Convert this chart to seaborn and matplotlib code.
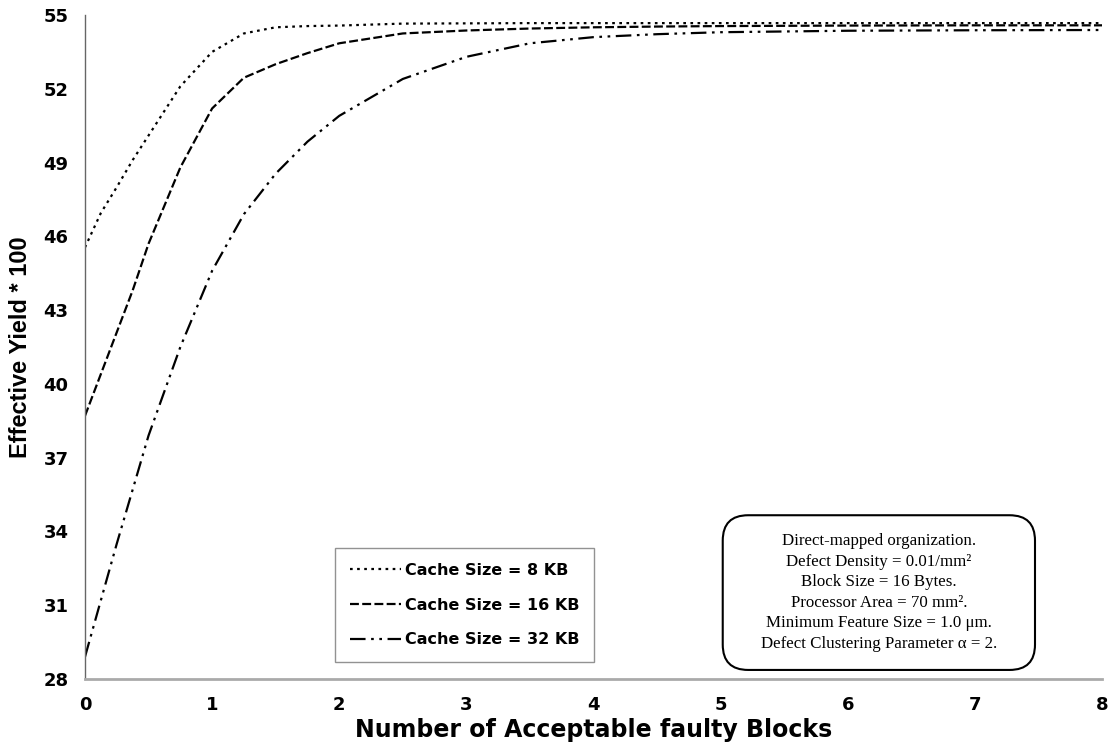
import pandas as pd
import matplotlib
matplotlib.use('Agg')
import matplotlib.pyplot as plt
from matplotlib.patches import FancyBboxPatch
import seaborn as sns

# faulty blocks axis
blocks = [0, 0.125, 0.25, 0.375, 0.5, 0.75, 1, 1.25, 1.5, 1.75, 2, 2.5, 3, 3.5, 4, 4.5, 5, 6, 7, 8]

# effective yield * 100
yield_8kb = [45.55, 46.95, 48.0, 49.1, 50.1, 52.1, 53.5, 54.25, 54.5, 54.55, 54.57, 54.65, 54.66, 54.67,
             54.67, 54.67, 54.67, 54.67, 54.67, 54.67]
yield_16kb = [38.7, 40.4, 42.1, 43.8, 45.7, 48.8, 51.2, 52.45, 53.0, 53.45, 53.85, 54.25, 54.37, 54.45,
              54.5, 54.53, 54.55, 54.57, 54.58, 54.58]
yield_32kb = [28.9, 31.2, 33.5, 35.7, 37.9, 41.5, 44.6, 46.9, 48.55, 49.85, 50.9, 52.4, 53.3, 53.85,
              54.1, 54.22, 54.3, 54.36, 54.38, 54.39]

series_names = ['Cache Size = 8 KB', 'Cache Size = 16 KB', 'Cache Size = 32 KB']
y_ticks = [28, 31, 34, 37, 40, 43, 46, 49, 52, 55]
x_ticks = [0, 1, 2, 3, 4, 5, 6, 7, 8]

info_lines = ['Direct-mapped organization.',
              'Defect Density = 0.01/mm²',
              'Block Size = 16 Bytes.',
              'Processor Area = 70 mm².',
              'Minimum Feature Size = 1.0 μm.',
              'Defect Clustering Parameter α = 2.']

#long format table for seaborn
df = pd.concat([
    pd.DataFrame({'Blocks': blocks, 'Yield': yield_8kb, 'Cache': series_names[0]}),
    pd.DataFrame({'Blocks': blocks, 'Yield': yield_16kb, 'Cache': series_names[1]}),
    pd.DataFrame({'Blocks': blocks, 'Yield': yield_32kb, 'Cache': series_names[2]}),
])

sns.set_style('white')
plt.rcParams['font.family'] = ['DejaVu Sans']
plt.rcParams['text.color'] = 'black'
plt.rcParams['axes.labelcolor'] = 'black'

fig = plt.figure(figsize=(11.08, 7.5), dpi=100)
ax = fig.add_axes([0.0767, 0.0947, 0.918, 0.8853])

dash_styles = {series_names[0]: (1.2, 2.0),
               series_names[1]: (4, 1.5),
               series_names[2]: (7, 2.5, 1.2, 2.5, 1.2, 2.5)}
sns.lineplot(data=df, x='Blocks', y='Yield', hue='Cache', style='Cache',
             palette=['black'] * 3, dashes=dash_styles, linewidth=1.6, ax=ax, legend=False)

ax.set_xlim(0, 8)
ax.set_ylim(28, 55)
ax.set_xticks(x_ticks)
ax.set_yticks(y_ticks)

for s in ['top', 'right']:
    ax.spines[s].set_visible(False)
ax.spines['left'].set_color('#666666')
ax.spines['left'].set_linewidth(1.0)
ax.spines['bottom'].set_color('#aaaaaa')
ax.spines['bottom'].set_linewidth(2.0)
ax.tick_params(axis='both', direction='inout', length=12, width=1, color='#777777',
               labelcolor='black', labelsize=13, pad=6)
for lbl in ax.get_xticklabels() + ax.get_yticklabels():
    lbl.set_fontweight('bold')

ax.set_xlabel('Number of Acceptable faulty Blocks', fontsize=17, fontweight='bold', labelpad=3)
ax.set_ylabel('Effective Yield * 100', fontsize=17, fontweight='bold',
              family='Liberation Sans', labelpad=8)

# legend box
handles = ax.get_lines()[:3]
leg = ax.legend(handles, series_names, loc='upper left', bbox_to_anchor=(0.246, 0.197),
                frameon=True, fancybox=False, edgecolor='#777777', fontsize=11.5,
                handlelength=3.2, handletextpad=0.3, labelspacing=1.25, borderpad=0.9,
                borderaxespad=0)
leg.get_frame().set_linewidth(1.0)
for t in leg.get_texts():
    t.set_fontweight('bold')

# annotation box (rounded frame drawn separately)
box = FancyBboxPatch((0.627, 0.0136), 0.307, 0.233, boxstyle='round,pad=0,rounding_size=0.025',
                     mutation_aspect=1.53, transform=ax.transAxes, fc='white', ec='black',
                     lw=1.5, zorder=5)
ax.add_patch(box)
ax.text(0.7805, 0.130, '\n'.join(info_lines), transform=ax.transAxes, ha='center', va='center',
        family='Liberation Serif', fontsize=12.2, linespacing=1.38, zorder=6)

plt.savefig('out.png', dpi=100)
